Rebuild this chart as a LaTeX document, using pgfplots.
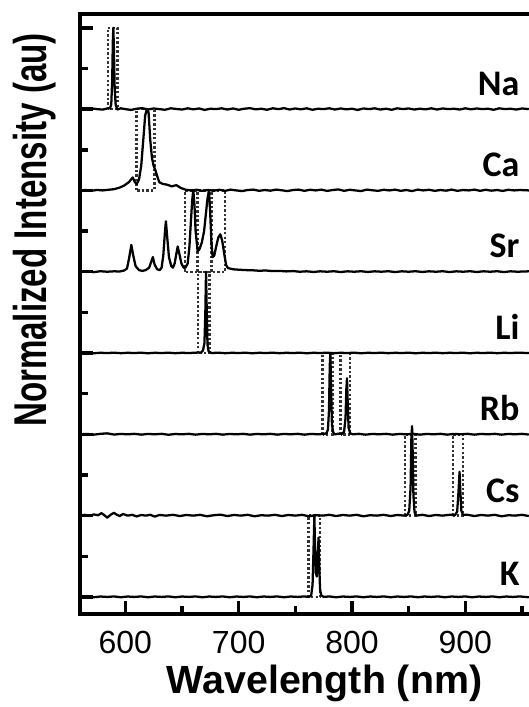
\documentclass[border=0pt]{standalone}
\usepackage{fontspec}
\setmainfont{Liberation Sans}
\newfontfamily\carlito{Carlito}
\usepackage{pgfplots}
\usepackage{pgfplotstable}
\pgfplotsset{compat=1.18}

\pgfplotstableread{
x y
560 0.005
565 -0.005
570 0.009
575 0.000
580 -0.006
584 0.008
586.5 0.010
587.6 0.06
588.4 0.35
589.0 0.85
589.4 1.00
589.9 0.75
590.6 0.25
591.5 0.05
593 -0.005
596 0.010
600 0.000
605 -0.010
610 0.005
615 0.012
620 -0.005
625 0.008
630 0.000
635 -0.008
640 0.010
645 0.002
650 -0.005
655 0.010
660 -0.003
665 0.008
670 -0.010
675 0.005
680 0.000
685 0.010
690 -0.005
695 0.008
700 -0.008
705 0.005
710 0.012
715 -0.003
720 0.005
725 -0.008
730 0.010
735 0.000
740 0.012
745 -0.005
750 0.008
755 -0.003
760 0.010
765 -0.008
770 0.005
775 0.000
780 0.010
785 -0.005
790 0.008
795 -0.003
800 0.005
805 -0.010
810 0.008
815 0.000
820 0.010
825 -0.005
830 0.005
835 -0.008
840 0.010
845 0.000
850 0.008
855 -0.005
860 0.005
865 -0.003
870 0.010
875 -0.005
880 0.008
885 0.000
890 0.005
895 -0.005
900 0.010
905 -0.003
910 0.008
915 0.000
920 0.005
925 -0.008
930 0.010
935 0.000
940 0.005
945 -0.005
950 0.008
956 0.000
}\na

\pgfplotstableread{
x y
560 0.000
565 0.005
570 -0.005
575 0.006
580 0.000
585 0.008
590 0.015
595 0.035
599 0.060
603 0.100
606.5 0.160
608.5 0.100
610 0.080
612 0.130
614 0.300
616 0.650
617.5 0.920
619 1.000
620.5 0.960
622 0.620
623.5 0.400
625 0.300
626.5 0.250
628 0.180
630 0.100
633 0.080
637 0.070
641 0.050
645 0.065
649 0.030
653 0.010
658 0.000
663 0.008
668 -0.005
673 0.005
678 -0.003
683 0.008
688 -0.005
693 0.010
698 0.000
703 -0.008
708 0.005
713 0.010
718 -0.005
723 0.005
728 -0.003
733 0.010
738 0.002
743 -0.008
748 0.005
753 0.010
758 -0.005
763 0.008
768 0.000
773 0.010
778 -0.006
783 0.005
788 0.012
793 -0.005
798 0.008
803 0.000
808 -0.008
813 0.010
818 0.002
823 -0.005
828 0.008
833 0.000
838 0.010
843 -0.005
848 0.005
853 -0.008
858 0.010
863 0.000
868 0.008
873 -0.005
878 0.005
883 -0.003
888 0.010
893 -0.005
898 0.005
903 0.000
908 0.010
913 -0.005
918 0.008
923 -0.003
928 0.005
933 -0.006
938 0.008
943 0.000
948 0.005
956 0.000
}\ca

\pgfplotstableread{
x y
560 0.000
566 0.006
572 -0.005
578 0.006
584 0.000
590 0.005
595 0.003
599 0.015
601.5 0.040
603.5 0.180
605.3 0.330
607 0.200
609 0.070
612 0.020
615 0.010
618 0.020
621 0.050
622.8 0.120
624.3 0.180
625.8 0.090
628 0.030
630.4 0.020
632 0.050
633.5 0.200
635 0.500
635.8 0.620
636.8 0.450
638.5 0.180
640.5 0.070
642 0.050
643.5 0.100
645 0.220
646.2 0.310
647.5 0.230
649.5 0.100
651.5 0.050
653 0.050
655 0.100
656.5 0.300
658 0.650
659 0.880
660 1.000
661 0.820
662 0.500
663.8 0.250
665.5 0.280
667.5 0.360
669.5 0.500
671 0.700
672.5 0.900
673.8 1.000
674.8 0.750
676 0.350
677 0.180
678.5 0.200
680 0.300
682 0.420
683.8 0.460
685.5 0.380
687.5 0.200
689 0.080
690.5 0.045
695 0.030
700 0.025
706 0.020
712 0.018
718 0.012
724 0.015
730 0.008
736 0.010
742 0.004
748 0.008
754 0.000
760 0.005
766 -0.003
772 0.005
778 0.000
784 0.006
790 -0.004
796 0.005
802 0.000
808 0.006
814 -0.003
820 0.005
826 0.000
832 0.006
838 -0.004
844 0.005
850 0.000
856 0.006
862 -0.003
868 0.005
874 0.000
880 0.006
886 -0.004
892 0.005
898 0.000
904 0.006
910 -0.003
916 0.005
922 0.000
928 0.006
934 -0.004
940 0.005
946 0.000
956 0.005
}\sr

\pgfplotstableread{
x y
560 0.000
566 0.004
572 -0.003
578 0.003
584 0.000
590 0.004
596 -0.002
602 0.003
608 0.000
614 0.004
620 -0.003
626 0.003
632 0.000
638 0.004
644 -0.002
650 0.003
656 0.000
662 0.004
667 0.008
668.5 0.030
669.8 0.120
670.6 0.500
671.2 1.000
671.8 0.550
672.5 0.100
673.5 0.020
676 0.000
682 0.004
688 -0.002
694 0.003
700 0.000
706 0.004
712 -0.003
718 0.003
724 0.000
730 0.004
736 -0.002
742 0.003
748 0.000
754 0.004
760 -0.003
766 0.003
772 0.000
778 0.004
784 -0.002
790 0.003
796 0.000
802 0.004
808 -0.003
814 0.003
820 0.000
826 0.004
832 -0.002
838 0.003
844 0.000
850 0.004
856 -0.003
862 0.003
868 0.000
874 0.004
880 -0.002
886 0.003
892 0.000
898 0.004
904 -0.003
910 0.003
916 0.000
922 0.004
928 -0.002
934 0.003
940 0.000
946 0.004
956 0.000
}\li

\pgfplotstableread{
x y
560 0.000
566 0.005
572 -0.004
578 0.006
584 0.012
590 -0.003
596 0.005
602 0.000
608 0.006
614 -0.004
620 0.005
626 0.000
632 0.006
638 -0.005
644 0.004
650 0.000
656 0.006
662 -0.004
668 0.005
674 0.000
680 0.006
686 -0.004
692 0.005
698 0.000
704 0.006
710 -0.004
716 0.005
722 0.000
728 0.006
734 -0.004
740 0.005
746 0.000
752 0.006
758 -0.004
764 0.005
770 0.000
775 0.005
777.5 0.012
778.8 0.060
779.7 0.300
780.4 0.850
780.9 1.000
781.5 0.600
782.3 0.120
783.5 0.020
785 0.000
788 0.008
791 0.005
793 0.030
794.3 0.200
795 0.550
795.6 0.690
796.2 0.400
797 0.080
798.5 0.010
801 0.000
806 0.006
812 -0.004
818 0.005
824 0.000
830 0.006
836 -0.004
842 0.005
848 0.000
854 0.006
860 -0.004
866 0.005
872 0.000
878 0.006
884 -0.004
890 0.005
896 0.000
902 0.006
908 -0.004
914 0.005
920 0.000
926 0.006
932 -0.004
938 0.005
944 0.000
950 0.006
956 -0.003
}\rb

\pgfplotstableread{
x y
560 0.000
564 0.010
568 -0.005
572 0.015
576 0.005
579 0.030
582 0.000
584 -0.025
587 0.010
590 0.035
592 0.015
595 -0.005
598 0.020
602 0.000
606 0.010
610 -0.010
614 0.008
618 0.000
622 0.010
626 -0.012
630 0.008
636 0.000
642 0.010
648 -0.005
654 0.008
660 0.000
666 0.010
672 -0.008
678 0.005
684 0.012
690 -0.005
696 0.008
702 0.000
708 0.010
714 -0.008
720 0.005
726 0.000
732 0.010
738 -0.005
744 0.008
750 0.000
756 0.010
762 -0.008
768 0.005
774 0.000
780 0.010
786 -0.005
792 0.008
798 0.000
804 0.010
810 -0.008
816 0.005
822 0.000
828 0.010
834 -0.005
840 0.008
846 0.000
849 0.010
850.5 0.060
851.7 0.350
852.4 0.950
853.0 1.100
853.5 0.800
854.2 0.250
855.2 0.040
857 0.000
862 0.010
868 -0.005
874 0.008
880 0.000
886 0.010
891 0.008
892.8 0.050
894.0 0.300
894.9 0.540
895.6 0.300
896.5 0.060
898 0.010
902 0.010
908 -0.005
914 0.008
920 0.000
926 0.010
932 -0.008
938 0.005
944 0.000
950 0.010
956 -0.005
}\cs

\pgfplotstableread{
x y
560 0.000
566 0.006
572 -0.004
578 0.005
584 0.000
590 0.006
596 -0.004
602 0.005
608 0.000
614 0.006
620 -0.004
626 0.005
632 0.000
638 0.006
644 -0.004
650 0.005
656 0.000
662 0.006
668 -0.004
674 0.005
680 0.000
686 0.006
692 -0.004
698 0.005
704 0.000
710 0.006
716 -0.004
722 0.005
728 0.000
734 0.006
740 -0.004
746 0.005
752 0.000
758 0.006
762 0.000
764 0.020
765.2 0.150
766.1 0.600
766.8 1.000
767.4 0.600
768.1 0.300
768.9 0.250
769.7 0.500
770.5 0.730
771.1 0.400
771.8 0.100
772.8 0.020
775 0.000
780 0.006
786 -0.004
792 0.005
798 0.000
804 0.006
810 -0.004
816 0.005
822 0.000
828 0.006
834 -0.004
840 0.005
846 0.000
852 0.006
858 -0.004
864 0.005
870 0.000
876 0.006
882 -0.004
888 0.005
894 0.000
900 0.006
906 -0.004
912 0.005
918 0.000
924 0.006
930 -0.004
936 0.005
942 0.000
948 0.006
956 -0.004
}\kk

\begin{document}
\begin{tikzpicture}
\begin{axis}[
  scale only axis,
  width=357pt, height=450pt,
  xmin=560, xmax=980,
  ymin=-0.21, ymax=7.17,
  axis line style={line width=3pt},
  tick align=inside,
  xtick pos=bottom, ytick pos=left,
  xtick={600,700,800,900},
  minor xtick={650,750,850,950},
  ytick={0,1,2,3,4,5,6,7},
  minor ytick={0.5,1.5,2.5,3.5,4.5,5.5,6.5},
  yticklabels={},
  major tick length=10pt,
  minor tick length=6pt,
  tick style={line width=2.6pt, black},
  /pgf/number format/assume math mode=true,
  xticklabel style={font=\fontsize{24}{24}\selectfont, anchor=base, yshift=-29.5pt},
  xlabel={Wavelength (nm)},
  xlabel style={at={(axis description cs:0.5137,0)}, anchor=base, yshift=-59.25pt,
    font=\fontsize{29.5}{29.5}\selectfont\bfseries},
  ylabel={\scalebox{0.72}[1]{Normalized Intensity (au)}},
  ylabel style={at={(axis description cs:-0.0945,0.64)}, anchor=center,
    font=\fontsize{34.5}{34.5}\selectfont\bfseries},
  spec/.style={black, line width=1.7pt, line join=round},
  dots/.style={black!80, line width=1.8pt, dash pattern=on 1.8pt off 1.6pt},
]
% dotted boxes
\addplot[dots] coordinates {(584.5,6) (584.5,7) (593,7) (593,6) (584.5,6)};
\addplot[dots] coordinates {(610,5) (610,6) (625.6,6) (625.6,5) (610,5)};
\addplot[dots] coordinates {(652.6,4) (652.6,5) (688.2,5) (688.2,4) (652.6,4)};
\addplot[dots] coordinates {(663.8,4) (663.8,5)};
\addplot[dots] coordinates {(676.1,4) (676.1,5)};
\addplot[dots] coordinates {(664.2,3) (664.2,4) (674.1,4) (674.1,3) (664.2,3)};
\addplot[dots] coordinates {(774.1,2) (774.1,3) (782.9,3) (782.9,2) (774.1,2)};
\addplot[dots] coordinates {(790,2) (790,3) (798.5,3) (798.5,2) (790,2)};
\addplot[dots] coordinates {(847,1) (847,2) (856,2) (856,1) (847,1)};
\addplot[dots] coordinates {(889,1) (889,2) (898,2) (898,1) (889,1)};
\addplot[dots] coordinates {(761.5,0) (761.5,1) (772,1) (772,0) (761.5,0)};
% spectra
\addplot[spec] table[x=x, y expr=\thisrow{y}+6] {\na};
\addplot[spec] table[x=x, y expr=\thisrow{y}+5] {\ca};
\addplot[spec] table[x=x, y expr=\thisrow{y}+4] {\sr};
\addplot[spec] table[x=x, y expr=\thisrow{y}+3] {\li};
\addplot[spec] table[x=x, y expr=\thisrow{y}+2] {\rb};
\addplot[spec] table[x=x, y expr=\thisrow{y}+1] {\cs};
\addplot[spec] table[x=x, y expr=\thisrow{y}+0] {\kk};
% labels
\begin{scope}[every node/.style={anchor=base east, font=\carlito\bfseries\fontsize{27}{27}\selectfont, inner sep=0pt}]
\node at (axis cs:948,6.17) {Na};
\node at (axis cs:948,5.17) {Ca};
\node at (axis cs:948,4.17) {Sr};
\node at (axis cs:948,3.17) {Li};
\node at (axis cs:948,2.17) {Rb};
\node at (axis cs:948,1.16) {Cs};
\node at (axis cs:948,0.14) {K};
\end{scope}
\coordinate (R) at (axis cs:955.6,7.17);
\end{axis}
\pgfresetboundingbox
\path[use as bounding box] ([shift={(-60pt,-69.75pt)}]current axis.south west) rectangle ([yshift=10.5pt]R);
\end{tikzpicture}
\end{document}
